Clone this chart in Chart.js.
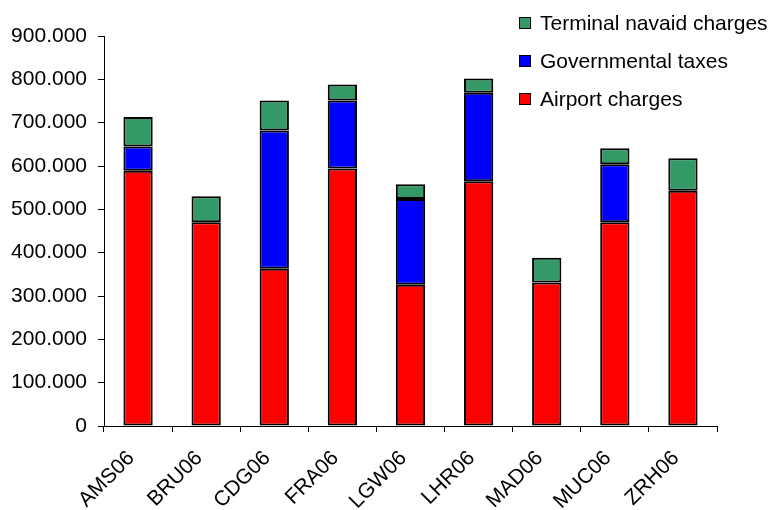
<!DOCTYPE html>
<html>
<head>
<meta charset="utf-8">
<script src="https://cdn.jsdelivr.net/npm/chart.js@4/dist/chart.umd.min.js"></script>
<style>
  html, body { margin: 0; padding: 0; background: #fff; }
  #wrap { position: relative; width: 776px; height: 510px; font-family: "Liberation Sans", Arial, sans-serif; }
  #legend { position: absolute; left: 519px; top: 4px; }
  .item { display: flex; align-items: center; height: 38px; font-size: 21px; color: #000; white-space: nowrap; }
  .sw { width: 10px; height: 10px; border: 1px solid #000; margin-right: 9px; }
</style>
</head>
<body>
<div id="wrap">
  <canvas id="c" width="776" height="510"></canvas>
  <div id="legend"></div>
</div>
<script>
// ── Data ───────────────────────────────────────────────
const airports  = ["AMS06", "BRU06", "CDG06", "FRA06", "LGW06", "LHR06", "MAD06", "MUC06", "ZRH06"];
const airportCharges = [589000, 470000, 363000, 594000, 326000, 565000, 331000, 470000, 543000];
const govTaxes       = [56000, null, 319000, 157000, 198000, 204000, null, 134000, null];
const navaidCharges  = [68000, 60000, 69000, 37000, 34000, 33000, 57000, 37000, 75000];
const yTicks = [0, 100000, 200000, 300000, 400000, 500000, 600000, 700000, 800000, 900000];

const COLORS = { airport: "#ff0000", gov: "#0000ff", navaid: "#339966" };
const FONT = "'Liberation Sans', Arial, sans-serif";

function fmt(v) {
  return v.toLocaleString("de-DE");
}

const series = [
  { label: "Airport charges",         data: airportCharges, color: COLORS.airport },
  { label: "Governmental taxes",      data: govTaxes,       color: COLORS.gov },
  { label: "Terminal navaid charges", data: navaidCharges,  color: COLORS.navaid },
];

new Chart(document.getElementById("c"), {
  type: "bar",
  data: {
    labels: airports,
    datasets: series.map(s => ({
      label: s.label,
      data: s.data,
      backgroundColor: s.color,
      borderColor: "#000",
      borderWidth: 2,
      borderSkipped: false,
      inflateAmount: 0,
      barPercentage: 0.43,
      categoryPercentage: 1,
    })),
  },
  options: {
    responsive: false,
    devicePixelRatio: 1,
    animation: false,
    layout: { padding: { top: 36, right: 59, left: 0, bottom: 0 } },
    plugins: { legend: { display: false }, tooltip: { enabled: false } },
    scales: {
      x: {
        stacked: true,
        grid: { drawOnChartArea: false, color: "#000", tickLength: 6 },
        border: { color: "#000", width: 1 },
        ticks: {
          color: "#000", font: { family: FONT, size: 21 },
          minRotation: 45, maxRotation: 45, padding: 14, labelOffset: -7,
        },
        afterFit: s => { s.height = 84; },
      },
      y: {
        stacked: true,
        min: 0, max: 900000,
        afterBuildTicks: s => { s.ticks = yTicks.map(v => ({ value: v })); },
        grid: { drawOnChartArea: false, color: "#000", tickLength: 6 },
        border: { color: "#000", width: 1 },
        ticks: {
          color: "#000", font: { family: FONT, size: 21 }, padding: 11,
          callback: v => fmt(v),
        },
        afterFit: s => { s.width = 104; },
      },
    },
  },
});

// ── Legend (reverse order, as in the picture) ─────────
const legend = document.getElementById("legend");
series.slice().reverse().forEach(s => {
  const row = document.createElement("div");
  row.className = "item";
  row.innerHTML = `<span class="sw" style="background:${s.color}"></span><span>${s.label}</span>`;
  legend.appendChild(row);
});
</script>
</body>
</html>
